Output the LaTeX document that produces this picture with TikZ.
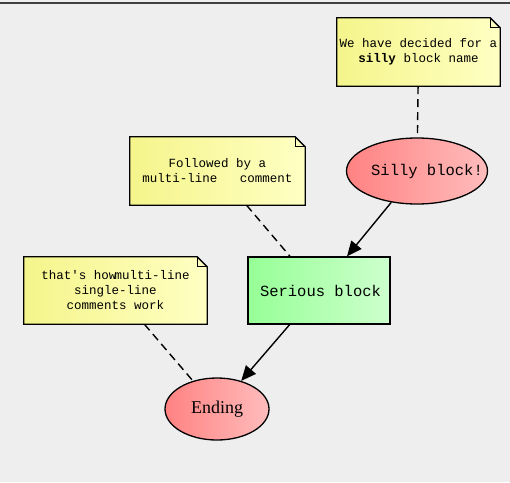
\documentclass[tikz,border=0pt]{standalone}
\usepackage{fontspec}
\setmonofont{Liberation Mono}
\newfontfamily\endfont{Liberation Serif}
\usetikzlibrary{shapes.geometric,arrows.meta,backgrounds}
\definecolor{bg}{HTML}{EEEEEE}
\definecolor{noteL}{RGB}{245,245,140}
\definecolor{noteR}{RGB}{255,255,195}
\definecolor{redL}{RGB}{255,130,130}
\definecolor{redR}{RGB}{255,188,188}
\definecolor{greenL}{RGB}{150,255,150}
\definecolor{greenR}{RGB}{205,255,205}
\newcommand\foldnote[1]{%
  \draw[line width=1.3pt,line join=miter,left color=noteL,right color=noteR]
    (#1.south west) -- (#1.north west) -- ([xshift=-10pt]#1.north east)
    -- ([yshift=-10pt]#1.north east) -- (#1.south east) -- cycle;
  \draw[line width=1.1pt]
    ([xshift=-10pt]#1.north east) -- ([xshift=-10pt,yshift=-10pt]#1.north east)
    -- ([yshift=-10pt]#1.north east);}
\begin{document}
\begin{tikzpicture}[x=1pt,y=-1pt,
  note/.style={rectangle,inner sep=0pt,align=center,font=\ttfamily\fontsize{12.5}{15}\selectfont},
  blk/.style={draw,line width=1.3pt,inner sep=0pt,font=\ttfamily\fontsize{15.5}{18}\selectfont},
  redell/.style={blk,ellipse,left color=redL,right color=redR},
  link/.style={line width=1.4pt,dash pattern=on 8pt off 5pt},
  flow/.style={line width=1.4pt,-{Triangle[length=15pt,width=13pt]}}]
\useasboundingbox (0,0) rectangle (510,482);
\begin{pgfonlayer}{background}
  \fill[bg] (0,0) rectangle (510,482);
  \draw[line width=1.3pt,black!75] (0,3) -- (510,3);
\end{pgfonlayer}

\node[note,minimum width=163pt,minimum height=68pt] (n1) at (418.5,52)
  {We have decided for a\\\textbf{silly} block name};
\node[note,minimum width=175pt,minimum height=68pt] (n2) at (217.5,171)
  {Followed by a\\multi-line\ \ \ comment};
\node[note,minimum width=183pt,minimum height=67pt] (n3) at (115.5,290.5)
  {that's how\hspace{-2pt}multi-line\\single-line\\comments work};
\begin{pgfonlayer}{background}
  \foldnote{n1}\foldnote{n2}\foldnote{n3}
\end{pgfonlayer}

\node[redell,minimum width=141pt,minimum height=66pt] (silly) at (417,171)
  {\makebox[0pt]{\hspace{20pt}Silly block!}};
\node[blk,rectangle,left color=greenL,right color=greenR,
  minimum width=142pt,minimum height=67pt] (serious) at (319,290.5)
  {\makebox[0pt]{\hspace{3pt}Serious block}};
\node[redell,minimum width=104pt,minimum height=62pt,font=\endfont\fontsize{18}{20}\selectfont]
  (ending) at (217,409) {\makebox[0pt]{Ending}};

\draw[link] (n1) -- (silly);
\draw[link] (n2) -- (serious);
\draw[link] (n3) -- (ending);
\draw[flow] (silly) -- (serious);
\draw[flow] (serious) -- (ending);
\end{tikzpicture}
\end{document}
